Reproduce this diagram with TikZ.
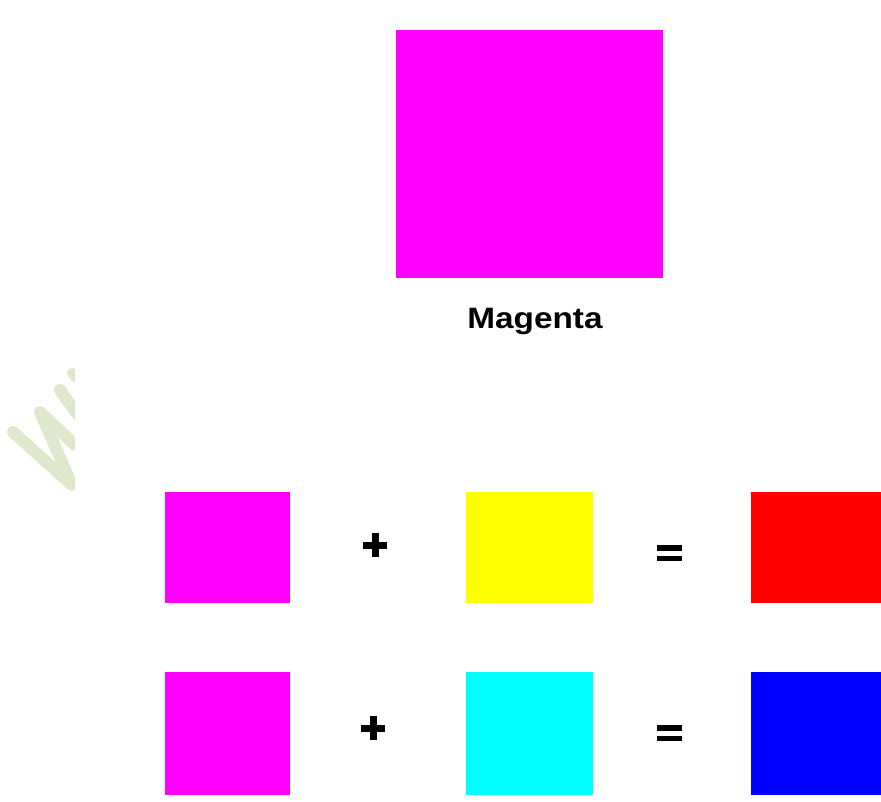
\documentclass[tikz,border=0pt]{standalone}
\usepackage{fontspec}
\setmainfont{Liberation Sans}
\usetikzlibrary{calc}
\definecolor{mag}{HTML}{FF00FF}
\definecolor{yel}{HTML}{FFFF00}
\definecolor{cya}{HTML}{00FFFF}
\definecolor{rd}{HTML}{FF0000}
\definecolor{bl}{HTML}{0000FF}
\definecolor{wm}{HTML}{DFE8CC}
\begin{document}
\begin{tikzpicture}[x=1pt,y=-1pt,
  swatch/.style={inner sep=0pt,outer sep=0pt,draw=none,anchor=north west},
  sign/.style={fill=black,draw=none}]
\useasboundingbox (0,0) rectangle (881,801);
\fill[white] (0,0) rectangle (881,801);
% watermark fragment
\begin{scope}
\clip (0,340) rectangle (75,500);
\draw[wm,line width=12,line cap=round,line join=round]
  (13,432) -- (72,485) -- (40,412) -- (75,445);
\draw[wm,line width=12,line cap=round] (60,390) -- (78,415);
\draw[wm,line width=10,line cap=round] (72,373) -- (76,378);
\end{scope}
% big square
\node[swatch,fill=mag,minimum width=267,minimum height=248] (big) at (396,30) {};
\node[font=\bfseries\fontsize{29.5}{30}\selectfont,xscale=1.13,anchor=base] (lbl) at (535,328) {Magenta};
% row 1
\node[swatch,fill=mag,minimum width=125,minimum height=111] (m1) at (165,492) {};
\node[swatch,fill=yel,minimum width=127,minimum height=111] (y1) at (466,492) {};
\node[swatch,fill=rd,minimum width=130,minimum height=111] (r1) at (751,492) {};
% row 2
\node[swatch,fill=mag,minimum width=125,minimum height=123] (m2) at (165,672) {};
\node[swatch,fill=cya,minimum width=127,minimum height=123] (c2) at (466,672) {};
\node[swatch,fill=bl,minimum width=130,minimum height=123] (b2) at (751,672) {};
% signs
\foreach \cx/\cy/\nm in {375/545/p1, 373/728/p2}{
  \coordinate (\nm) at (\cx,\cy);
  \fill[sign] ($(\nm)+(-12,-3.5)$) rectangle ($(\nm)+(12,3.5)$);
  \fill[sign] ($(\nm)+(-3.5,-12)$) rectangle ($(\nm)+(3.5,12)$);
}
\foreach \cx/\cy/\nm in {669.5/553/e1, 669.5/733/e2}{
  \coordinate (\nm) at (\cx,\cy);
  \fill[sign] ($(\nm)+(-12.5,-8)$) rectangle ($(\nm)+(12.5,-2.5)$);
  \fill[sign] ($(\nm)+(-12.5,2.5)$) rectangle ($(\nm)+(12.5,8)$);
}
\end{tikzpicture}
\end{document}
